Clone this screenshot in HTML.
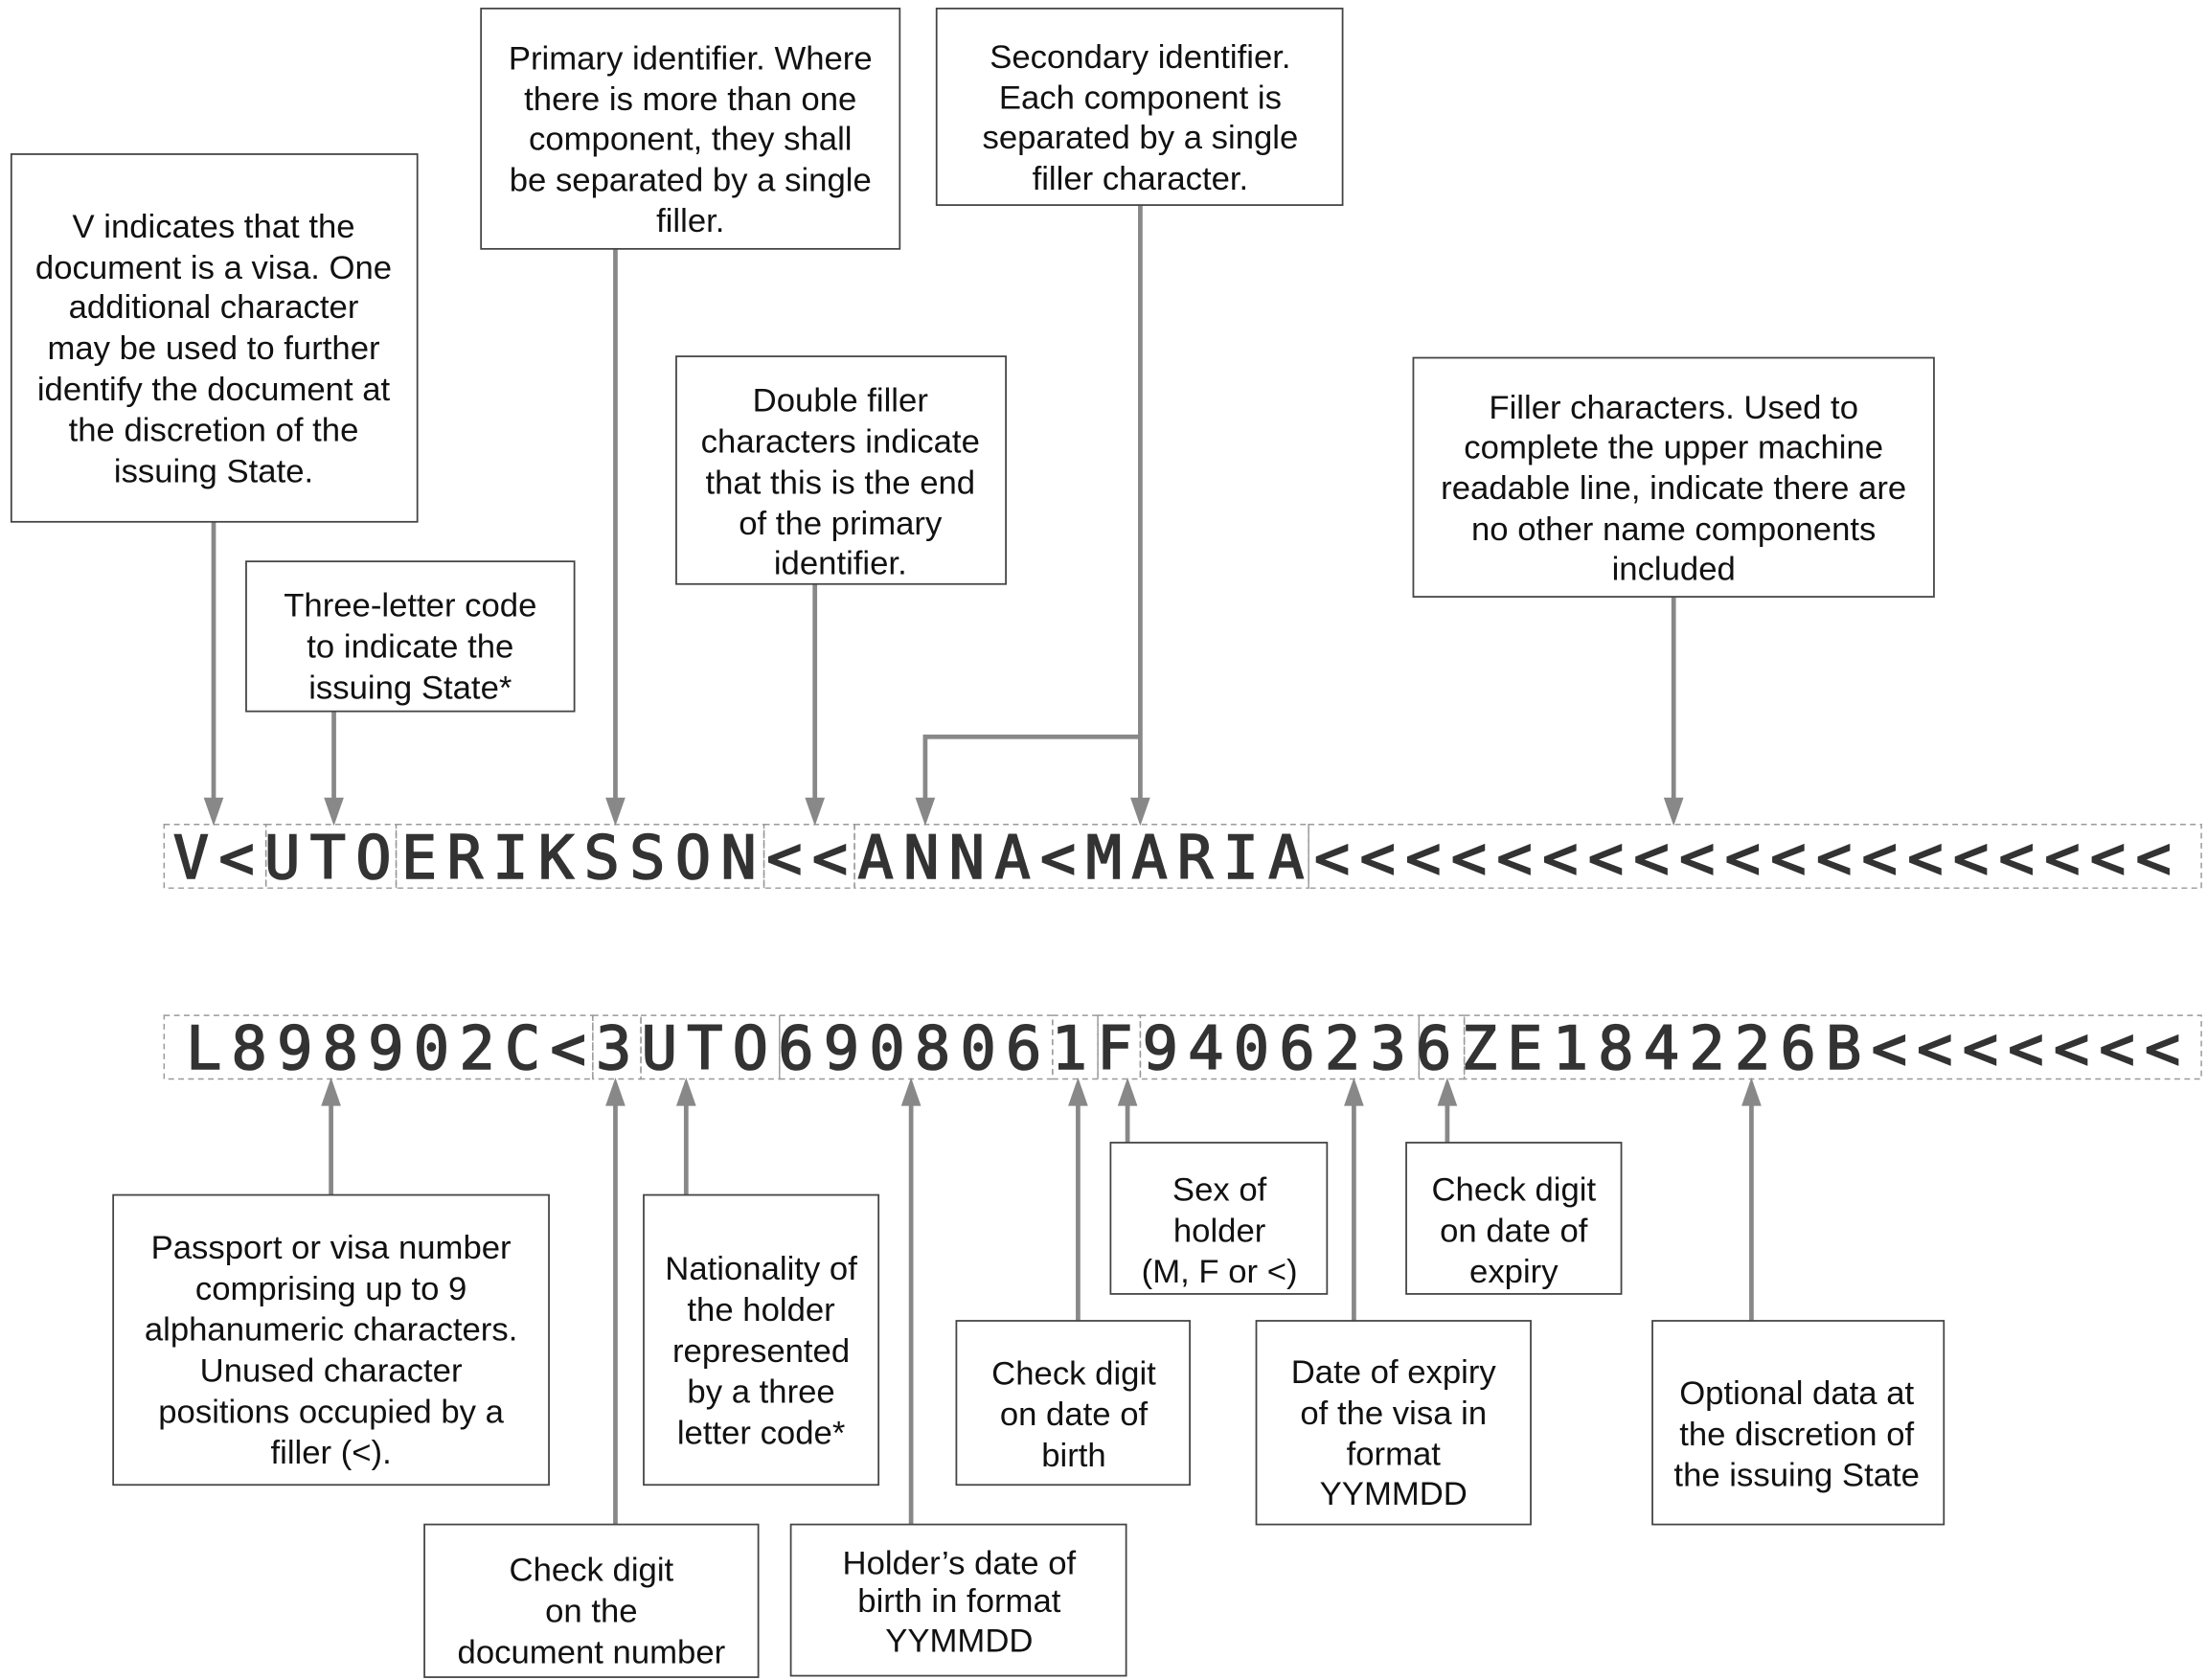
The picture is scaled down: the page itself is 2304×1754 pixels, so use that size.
<!DOCTYPE html>
<html><head><meta charset="utf-8"><style>
html,body{margin:0;padding:0;background:#fff;}
svg{display:block;}
.b{fill:#fff;stroke:#444;stroke-width:1.2;}
.t{font-family:"Liberation Sans",Arial,sans-serif;font-size:23.5px;fill:#111;text-anchor:middle;}
.a{stroke:#888;stroke-width:3.2;fill:none;}
.h{fill:#888;}
.d{fill:none;stroke:#999;stroke-width:1;stroke-dasharray:4 3;}
.m{font-family:"DejaVu Sans Mono","Liberation Mono",monospace;font-size:42px;fill:#333;stroke:#333;stroke-width:1.1;text-anchor:middle;}
</style></head><body>
<svg width="2304" height="1754" viewBox="0 0 1560 1188" preserveAspectRatio="none" xmlns="http://www.w3.org/2000/svg">
<rect class="d" x="116" y="583" width="72" height="45"/>
<rect class="d" x="188" y="583" width="92" height="45"/>
<rect class="d" x="280" y="583" width="260" height="45"/>
<rect class="d" x="540" y="583" width="64" height="45"/>
<rect class="d" x="604" y="583" width="321" height="45"/>
<rect class="d" x="925" y="583" width="631" height="45"/>
<text class="m" y="621" x="135 167.3 199.5 231.8 264 296.3 328.6 360.8 393.1 425.3 457.6 489.9 522.1 554.4 586.6 618.9 651.2 683.4 715.7 747.9 780.2 812.5 844.7 877 909.2 941.5 973.8 1006 1038.3 1070.5 1102.8 1135.1 1167.3 1199.6 1231.8 1264.1 1296.4 1328.6 1360.9 1393.1 1425.4 1457.7 1489.9 1522.2">V&lt;UTOERIKSSON&lt;&lt;ANNA&lt;MARIA&lt;&lt;&lt;&lt;&lt;&lt;&lt;&lt;&lt;&lt;&lt;&lt;&lt;&lt;&lt;&lt;&lt;&lt;&lt;</text>
<rect class="d" x="116" y="718" width="303" height="45"/>
<rect class="d" x="419" y="718" width="34" height="45"/>
<rect class="d" x="453" y="718" width="98" height="45"/>
<rect class="d" x="551" y="718" width="193" height="45"/>
<rect class="d" x="744" y="718" width="32" height="45"/>
<rect class="d" x="776" y="718" width="30" height="45"/>
<rect class="d" x="806" y="718" width="197" height="45"/>
<rect class="d" x="1003" y="718" width="32" height="45"/>
<rect class="d" x="1035" y="718" width="521" height="45"/>
<text class="m" y="756" x="144 176.2 208.4 240.6 272.8 305 337.2 369.4 401.6 433.8 466 498.2 530.4 562.6 594.8 627 659.2 691.4 723.6 755.8 788 820.2 852.4 884.6 916.8 949 981.2 1013.4 1045.6 1077.8 1110 1142.2 1174.4 1206.6 1238.8 1271 1303.2 1335.4 1367.6 1399.8 1432 1464.2 1496.4 1528.6">L898902C&lt;3UTO6908061F9406236ZE184226B&lt;&lt;&lt;&lt;&lt;&lt;&lt;</text>

<line class="a" x1="151" y1="369" x2="151" y2="568"/><polygon class="h" points="144,564 158,564 151,584"/>
<line class="a" x1="236" y1="503" x2="236" y2="568"/><polygon class="h" points="229,564 243,564 236,584"/>
<line class="a" x1="435" y1="176" x2="435" y2="568"/><polygon class="h" points="428,564 442,564 435,584"/>
<line class="a" x1="576" y1="413" x2="576" y2="568"/><polygon class="h" points="569,564 583,564 576,584"/>
<line class="a" x1="806" y1="145" x2="806" y2="568"/><polygon class="h" points="799,564 813,564 806,584"/>
<polyline class="a" points="806,521 654,521 654,568"/><polygon class="h" points="647,564 661,564 654,584"/>
<line class="a" x1="1183" y1="422" x2="1183" y2="568"/><polygon class="h" points="1176,564 1190,564 1183,584"/>

<line class="a" x1="234" y1="845" x2="234" y2="778"/><polygon class="h" points="227,782 241,782 234,762"/>
<line class="a" x1="435" y1="1078" x2="435" y2="778"/><polygon class="h" points="428,782 442,782 435,762"/>
<line class="a" x1="485" y1="845" x2="485" y2="778"/><polygon class="h" points="478,782 492,782 485,762"/>
<line class="a" x1="644" y1="1078" x2="644" y2="778"/><polygon class="h" points="637,782 651,782 644,762"/>
<line class="a" x1="762" y1="934" x2="762" y2="778"/><polygon class="h" points="755,782 769,782 762,762"/>
<line class="a" x1="797" y1="808" x2="797" y2="778"/><polygon class="h" points="790,782 804,782 797,762"/>
<line class="a" x1="957" y1="934" x2="957" y2="778"/><polygon class="h" points="950,782 964,782 957,762"/>
<line class="a" x1="1023" y1="808" x2="1023" y2="778"/><polygon class="h" points="1016,782 1030,782 1023,762"/>
<line class="a" x1="1238" y1="934" x2="1238" y2="778"/><polygon class="h" points="1231,782 1245,782 1238,762"/>

<rect class="b" x="8" y="109" width="287" height="260"/>
<text class="t"><tspan x="151" y="168">V indicates that the</tspan><tspan x="151" y="197">document is a visa. One</tspan><tspan x="151" y="225">additional character</tspan><tspan x="151" y="254">may be used to further</tspan><tspan x="151" y="283">identify the document at</tspan><tspan x="151" y="312">the discretion of the</tspan><tspan x="151" y="341">issuing State.</tspan></text>

<rect class="b" x="174" y="397" width="232" height="106"/>
<text class="t"><tspan x="290" y="436">Three-letter code</tspan><tspan x="290" y="465">to indicate the</tspan><tspan x="290" y="494">issuing State*</tspan></text>

<rect class="b" x="340" y="6" width="296" height="170"/>
<text class="t"><tspan x="488" y="49">Primary identifier. Where</tspan><tspan x="488" y="78">there is more than one</tspan><tspan x="488" y="106">component, they shall</tspan><tspan x="488" y="135">be separated by a single</tspan><tspan x="488" y="164">filler.</tspan></text>

<rect class="b" x="662" y="6" width="287" height="139"/>
<text class="t"><tspan x="806" y="48">Secondary identifier.</tspan><tspan x="806" y="77">Each component is</tspan><tspan x="806" y="105">separated by a single</tspan><tspan x="806" y="134">filler character.</tspan></text>

<rect class="b" x="478" y="252" width="233" height="161"/>
<text class="t"><tspan x="594" y="291">Double filler</tspan><tspan x="594" y="320">characters indicate</tspan><tspan x="594" y="349">that this is the end</tspan><tspan x="594" y="378">of the primary</tspan><tspan x="594" y="406">identifier.</tspan></text>

<rect class="b" x="999" y="253" width="368" height="169"/>
<text class="t"><tspan x="1183" y="296">Filler characters. Used to</tspan><tspan x="1183" y="324">complete the upper machine</tspan><tspan x="1183" y="353">readable line, indicate there are</tspan><tspan x="1183" y="382">no other name components</tspan><tspan x="1183" y="410">included</tspan></text>

<rect class="b" x="80" y="845" width="308" height="205"/>
<text class="t"><tspan x="234" y="890">Passport or visa number</tspan><tspan x="234" y="919">comprising up to 9</tspan><tspan x="234" y="948">alphanumeric characters.</tspan><tspan x="234" y="977">Unused character</tspan><tspan x="234" y="1006">positions occupied by a</tspan><tspan x="234" y="1035">filler (&lt;).</tspan></text>

<rect class="b" x="455" y="845" width="166" height="205"/>
<text class="t"><tspan x="538" y="905">Nationality of</tspan><tspan x="538" y="934">the holder</tspan><tspan x="538" y="963">represented</tspan><tspan x="538" y="992">by a three</tspan><tspan x="538" y="1021">letter code*</tspan></text>

<rect class="b" x="300" y="1078" width="236" height="108"/>
<text class="t"><tspan x="418" y="1118">Check digit</tspan><tspan x="418" y="1147">on the</tspan><tspan x="418" y="1176">document number</tspan></text>

<rect class="b" x="559" y="1078" width="237" height="107"/>
<text class="t"><tspan x="678" y="1113">Holder’s date of</tspan><tspan x="678" y="1140">birth in format</tspan><tspan x="678" y="1168">YYMMDD</tspan></text>

<rect class="b" x="676" y="934" width="165" height="116"/>
<text class="t"><tspan x="759" y="979">Check digit</tspan><tspan x="759" y="1008">on date of</tspan><tspan x="759" y="1037">birth</tspan></text>

<rect class="b" x="785" y="808" width="153" height="107"/>
<text class="t"><tspan x="862" y="849">Sex of</tspan><tspan x="862" y="878">holder</tspan><tspan x="862" y="907">(M, F or &lt;)</tspan></text>

<rect class="b" x="994" y="808" width="152" height="107"/>
<text class="t"><tspan x="1070" y="849">Check digit</tspan><tspan x="1070" y="878">on date of</tspan><tspan x="1070" y="907">expiry</tspan></text>

<rect class="b" x="888" y="934" width="194" height="144"/>
<text class="t"><tspan x="985" y="978">Date of expiry</tspan><tspan x="985" y="1007">of the visa in</tspan><tspan x="985" y="1036">format</tspan><tspan x="985" y="1064">YYMMDD</tspan></text>

<rect class="b" x="1168" y="934" width="206" height="144"/>
<text class="t"><tspan x="1270" y="993">Optional data at</tspan><tspan x="1270" y="1022">the discretion of</tspan><tspan x="1270" y="1051">the issuing State</tspan></text>
</svg>
</body></html>
